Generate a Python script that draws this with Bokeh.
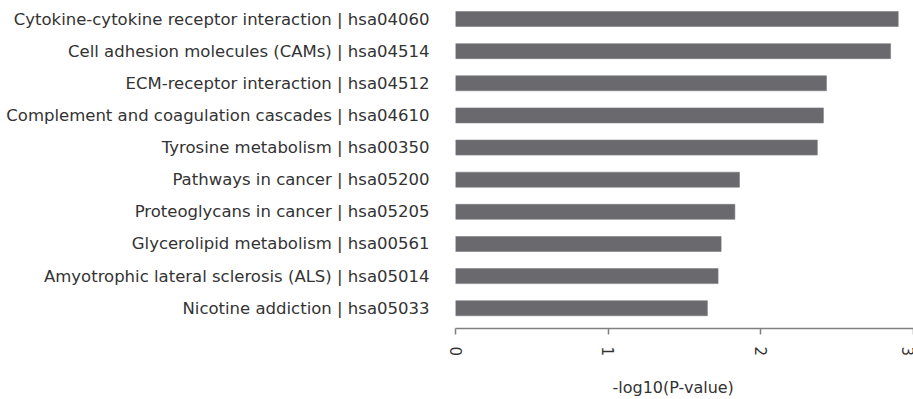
from bokeh.plotting import figure
from bokeh.models import Range1d, FixedTicker, Title, LinearAxis
from bokeh.embed import file_html
from bokeh.resources import INLINE

pathways = [
    "Cytokine-cytokine receptor interaction | hsa04060",
    "Cell adhesion molecules (CAMs) | hsa04514",
    "ECM-receptor interaction | hsa04512",
    "Complement and coagulation cascades | hsa04610",
    "Tyrosine metabolism | hsa00350",
    "Pathways in cancer | hsa05200",
    "Proteoglycans in cancer | hsa05205",
    "Glycerolipid metabolism | hsa00561",
    "Amyotrophic lateral sclerosis (ALS) | hsa05014",
    "Nicotine addiction | hsa05033",
]
neg_log_p = [2.90, 2.85, 2.43, 2.41, 2.37, 1.86, 1.83, 1.74, 1.72, 1.65]
x_ticks = [0, 1, 2, 3]
x_title = "-log10(P-value)"

n = len(pathways)
y_pos = [n - 1 - i for i in range(n)]

FONT = "DejaVu Sans"
TXT = "#333333"
AX = "#808080"

p = figure(width=913, height=399, output_backend="svg", toolbar_location=None,
           y_range=Range1d(-0.63, n - 1 + 0.576),
           x_range=Range1d(0, 3),
           min_border_left=455, min_border_right=0, min_border_top=0, min_border_bottom=71)
p.outline_line_color = None
p.grid.grid_line_color = None
p.background_fill_color = "white"
p.border_fill_color = "white"

p.hbar(y=y_pos, right=neg_log_p, left=0, height=0.467, color="#6a6a6e",
       line_color="#7c7c80", line_width=0.6)

ya = p.yaxis[0]
ya.ticker = FixedTicker(ticks=y_pos)
ya.major_label_overrides = {y: lab for y, lab in zip(y_pos, pathways)}
ya.axis_line_color = None
ya.major_tick_line_color = None
ya.minor_tick_line_color = None
ya.major_label_standoff = 20
ya.major_label_text_font = FONT
ya.major_label_text_font_size = "16.5px"
ya.major_label_text_color = TXT

xa = p.xaxis[0]
xa.ticker = FixedTicker(ticks=x_ticks)
xa.axis_line_color = AX
xa.axis_line_width = 1.5
xa.major_tick_line_color = AX
xa.major_tick_line_width = 1.5
xa.minor_tick_line_color = None
xa.major_tick_out = 6
xa.major_tick_in = 0
xa.major_label_orientation = "vertical"
xa.major_label_standoff = 12
xa.major_label_text_font = FONT
xa.major_label_text_font_size = "15px"
xa.major_label_text_color = TXT

# invisible spacer axis between tick labels and the axis title
pad = LinearAxis(ticker=FixedTicker(ticks=[1.5]), axis_line_color=None,
                 major_tick_line_color=None, minor_tick_line_color=None,
                 major_tick_out=16, major_tick_in=0, major_label_standoff=0,
                 major_label_overrides={1.5: ""}, major_label_text_font_size="1px")
p.add_layout(pad, "below")

p.add_layout(Title(text=x_title, align="left", offset=157, standoff=0,
                   text_font=FONT, text_font_size="16px", text_font_style="normal",
                   text_color=TXT), "below")

open("out.html", "w").write(file_html(p, INLINE))
